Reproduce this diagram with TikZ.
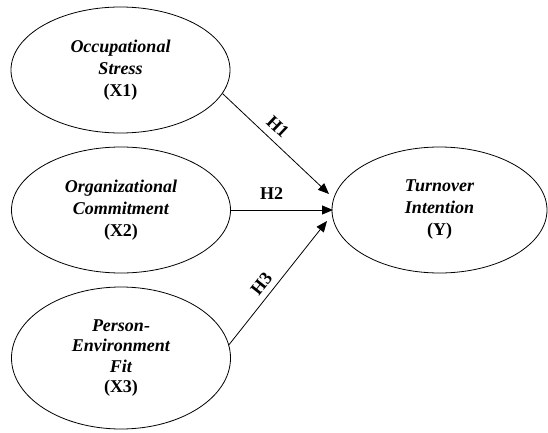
\documentclass[tikz,border=0pt]{standalone}
\usepackage{fontspec}
\setmainfont{Liberation Serif}
\usetikzlibrary{shapes.geometric,arrows.meta}
\begin{document}
\begin{tikzpicture}[x=1pt,y=1pt,
  var/.style={draw,line width=0.8pt,ellipse,minimum width=219pt,minimum height=126pt,inner sep=0pt,align=center,
    font=\fontsize{18}{22}\selectfont\bfseries},
  conn/.style={line width=0.8pt,-{Triangle[length=11pt,width=9pt]}},
  hlab/.style={inner sep=0pt,font=\fontsize{18}{22}\selectfont\bfseries}]
\useasboundingbox (0,0) rectangle (548,432);
\node[var] (x1) at (120.5,362) {\textit{Occupational}\\\textit{Stress}\\(X1)};
\node[var] (x2) at (121,222) {\textit{Organizational}\\\textit{Commitment}\\(X2)};
\node[var,minimum height=142pt,font=\fontsize{18}{20.5}\selectfont\bfseries] (x3) at (121,74) {\textit{Person-}\\\textit{Environment}\\\textit{Fit}\\(X3)};
\node[var,minimum width=215pt] (y) at (439.5,222) {\textit{Turnover}\\\textit{Intention}\\(Y)};
\coordinate (t1) at (329,238);
\coordinate (t2) at (333,222);
\coordinate (t3) at (327,211);
\draw[conn] (x1.-13.8) -- node[hlab,sloped,above=7.5pt,pos=0.43] {H1} (t1);
\draw[conn] (x2.east) -- node[hlab,above=10.3pt,pos=0.4] {H2} (t2);
\draw[conn] (x3.7.8) -- node[hlab,sloped,above=6pt,pos=0.43] {H3} (t3);
\end{tikzpicture}
\end{document}
